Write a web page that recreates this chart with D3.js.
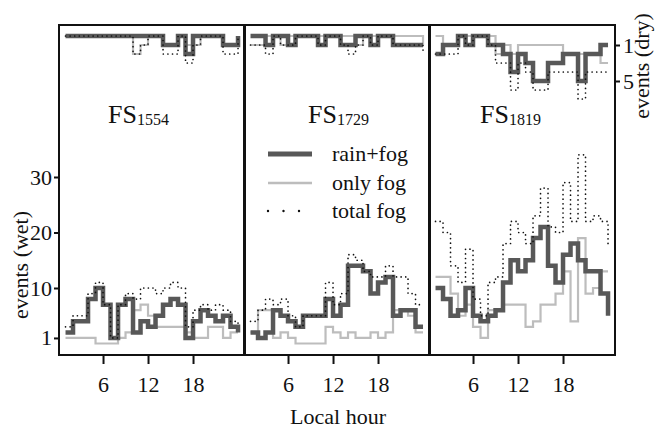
<!DOCTYPE html>
<html>
<head>
<meta charset="utf-8">
<script src="https://cdn.jsdelivr.net/npm/d3@7"></script>
<style>
  html, body { margin: 0; padding: 0; background: #fff; }
  svg { display: block; }
  text { font-family: "Liberation Serif", "Times New Roman", serif; fill: #111; }
</style>
</head>
<body>
<svg id="chart" width="656" height="428"></svg>
<script>
// Hourly fog event counts (hours 1..24) at three fog stations
const hours = d3.range(1, 25);
const stations = ["1554", "1729", "1819"];
const seriesNames = ["rain+fog", "only fog", "total fog"];
const xTicks = [6, 12, 18];
const wetTicks = [1, 10, 20, 30];
const dryTicks = [1, 5];

// wet-day events
const wetRainFog1554  = [2,4,4,8,10,7,1,7,8,2,4,3,5,7,8,7,1,4,6,5,4,5,3,2];
const wetOnlyFog1554  = [1,1,1,1,0,0,0,1,2,6,7,5,3,3,3,3,2,1,1,3,3,1,2,2];
const wetTotalFog1554 = [3,5,5,9,11,7,1,7,9,8,10,10,9,10,11,10,3,6,7,6,7,6,4,3];

const wetRainFog1729  = [2,1,2,6,5,4,3,5,5,5,8,5,7,14,14,13,9,11,12,5,6,6,3,3];
const wetOnlyFog1729  = [2,6,6,1,2,1,0,0,0,0,3,2,1,2,1,1,2,1,2,6,6,5,2,2];
const wetTotalFog1729 = [4,6,8,7,8,5,3,5,5,5,11,7,9,16,15,13,12,12,14,12,12,9,7,7];

const wetRainFog1819  = [10,8,5,6,10,5,4,5,6,11,15,13,15,19,21,14,11,16,18,15,13,13,9,5];
const wetOnlyFog1819  = [12,12,9,5,7,3,1,6,6,7,7,7,3,4,7,7,9,13,4,19,9,10,13,13];
const wetTotalFog1819 = [22,20,14,11,17,8,5,11,12,18,22,20,18,23,28,21,20,29,22,34,22,23,22,18];

// dry-day events
const dryRainFog1554  = [0,0,0,0,0,0,0,0,0,0,0,0,0,1,1,0,2,0,0,0,0,1,1,0];
const dryOnlyFog1554  = [0,0,0,0,0,0,0,0,0,2,1,0,0,1,1,0,1,1,0,0,0,1,1,0];
const dryTotalFog1554 = [0,0,0,0,0,0,0,0,0,2,1,0,0,2,2,0,3,1,0,0,0,2,2,0];

const dryRainFog1729  = [0,0,1,0,0,1,0,0,0,1,0,0,1,1,0,0,1,0,0,1,1,1,1,1];
const dryOnlyFog1729  = [1,1,0,0,1,0,0,0,0,0,0,0,0,0,1,0,0,0,0,0,0,0,0,1];
const dryTotalFog1729 = [1,1,2,0,1,1,0,0,0,1,0,0,1,2,1,0,1,0,0,1,1,1,1,2];

const dryRainFog1819  = [2,1,1,0,1,0,0,1,1,2,4,2,3,5,5,3,3,2,2,5,2,2,1,1];
const dryOnlyFog1819  = [0,1,1,0,0,0,0,0,2,1,2,1,1,1,1,1,1,2,2,2,2,2,3,3];
const dryTotalFog1819 = [2,2,2,0,1,0,0,1,3,3,6,3,4,6,6,4,4,4,4,7,4,4,4,4];

const panels = [
  { id: "1554", wet: [wetRainFog1554, wetOnlyFog1554, wetTotalFog1554], dry: [dryRainFog1554, dryOnlyFog1554, dryTotalFog1554] },
  { id: "1729", wet: [wetRainFog1729, wetOnlyFog1729, wetTotalFog1729], dry: [dryRainFog1729, dryOnlyFog1729, dryTotalFog1729] },
  { id: "1819", wet: [wetRainFog1819, wetOnlyFog1819, wetTotalFog1819], dry: [dryRainFog1819, dryOnlyFog1819, dryTotalFog1819] }
];

// layout
const panelLeft = [59, 244, 429];
const panelW = 186;
const plotTop = 25, plotBottom = 355;

const styles = [
  { stroke: "#585858", width: 4.5, dash: null, cap: "butt" },
  { stroke: "#bdbdbd", width: 2.2, dash: null, cap: "butt" },
  { stroke: "#111",    width: 1.7, dash: "0,4.6", cap: "round" }
];
const drawOrder = [1, 0, 2];

const svg = d3.select("#chart");

const yWet = d3.scaleLinear().domain([0, 30]).range([343.5, 177]);
const yDry = d3.scaleLinear().domain([0, 5]).range([36, 81]);

function styleAxis(a) {
  a.select(".domain").remove();
  a.selectAll("line").attr("stroke", "#111").attr("stroke-width", 2);
  a.selectAll("text").attr("font-size", 22).attr("fill", "#111")
    .style("font-family", "Liberation Serif");
}

panels.forEach((p, i) => {
  const x = d3.scaleLinear().domain([0.13, 24.93]).range([panelLeft[i], panelLeft[i] + panelW]);
  const g = svg.append("g");

  const clipId = "clip" + i;
  svg.append("clipPath").attr("id", clipId)
    .append("rect").attr("x", panelLeft[i]).attr("y", plotTop).attr("width", panelW).attr("height", plotBottom - plotTop);

  const plot = g.append("g").attr("clip-path", `url(#${clipId})`);

  [[p.wet, yWet], [p.dry, yDry]].forEach(([set, y]) => {
    const line = d3.line()
      .x((d, k) => x(hours[k]))
      .y(d => y(d))
      .curve(d3.curveStepAfter);
    drawOrder.forEach(s => {
      const st = styles[s];
      plot.append("path")
        .attr("d", line(set[s]))
        .attr("fill", "none")
        .attr("stroke", st.stroke)
        .attr("stroke-width", st.width)
        .attr("stroke-linecap", st.cap)
        .attr("stroke-linejoin", "miter")
        .attr("stroke-dasharray", st.dash);
    });
  });

  // frame
  g.append("rect")
    .attr("x", panelLeft[i]).attr("y", plotTop)
    .attr("width", panelW).attr("height", plotBottom - plotTop)
    .attr("fill", "none").attr("stroke", "#111").attr("stroke-width", 2);

  // hour axis
  const xa = g.append("g").attr("transform", `translate(0,${plotBottom})`)
    .call(d3.axisBottom(x).tickValues(xTicks).tickSize(9).tickPadding(12).tickFormat(d3.format("d")));
  styleAxis(xa);

  // station label
  const lab = g.append("text")
    .attr("x", [108, 308, 480][i]).attr("y", 123)
    .attr("font-size", 26);
  lab.append("tspan").text("FS");
  lab.append("tspan").attr("dy", 2).attr("font-size", 16).text(p.id);

  if (i === 0) {
    const ya = g.append("g").attr("transform", `translate(${panelLeft[i]},0)`)
      .call(d3.axisLeft(yWet).tickValues(wetTicks).tickSize(5).tickPadding(2).tickFormat(d3.format("d")));
    styleAxis(ya);
  }
  if (i === 2) {
    const ya = g.append("g").attr("transform", `translate(${panelLeft[i] + panelW},0)`)
      .call(d3.axisRight(yDry).tickValues(dryTicks).tickSize(5).tickPadding(3).tickFormat(d3.format("d")));
    styleAxis(ya);
  }
});

// legend
const legend = svg.append("g");
[154, 183, 211].forEach((ly, s) => {
  const st = styles[s];
  legend.append("line")
    .attr("x1", 268).attr("x2", s === 2 ? 300 : 312)
    .attr("y1", ly).attr("y2", ly)
    .attr("stroke", st.stroke)
    .attr("stroke-width", s === 2 ? 2.4 : st.width + 0.5)
    .attr("stroke-linecap", st.cap)
    .attr("stroke-dasharray", s === 2 ? "0,15.5" : null);
  legend.append("text")
    .attr("x", 332).attr("y", ly + 7)
    .attr("font-size", 22)
    .text(seriesNames[s]);
});

// axis titles
svg.append("text")
  .attr("transform", "translate(28,265) rotate(-90)")
  .attr("text-anchor", "middle").attr("font-size", 22)
  .text("events (wet)");
svg.append("text")
  .attr("transform", "translate(649,66) rotate(-90)")
  .attr("text-anchor", "middle").attr("font-size", 22)
  .text("events (dry)");
svg.append("text")
  .attr("x", 338).attr("y", 424)
  .attr("text-anchor", "middle").attr("font-size", 22)
  .text("Local hour");
</script>
</body>
</html>
